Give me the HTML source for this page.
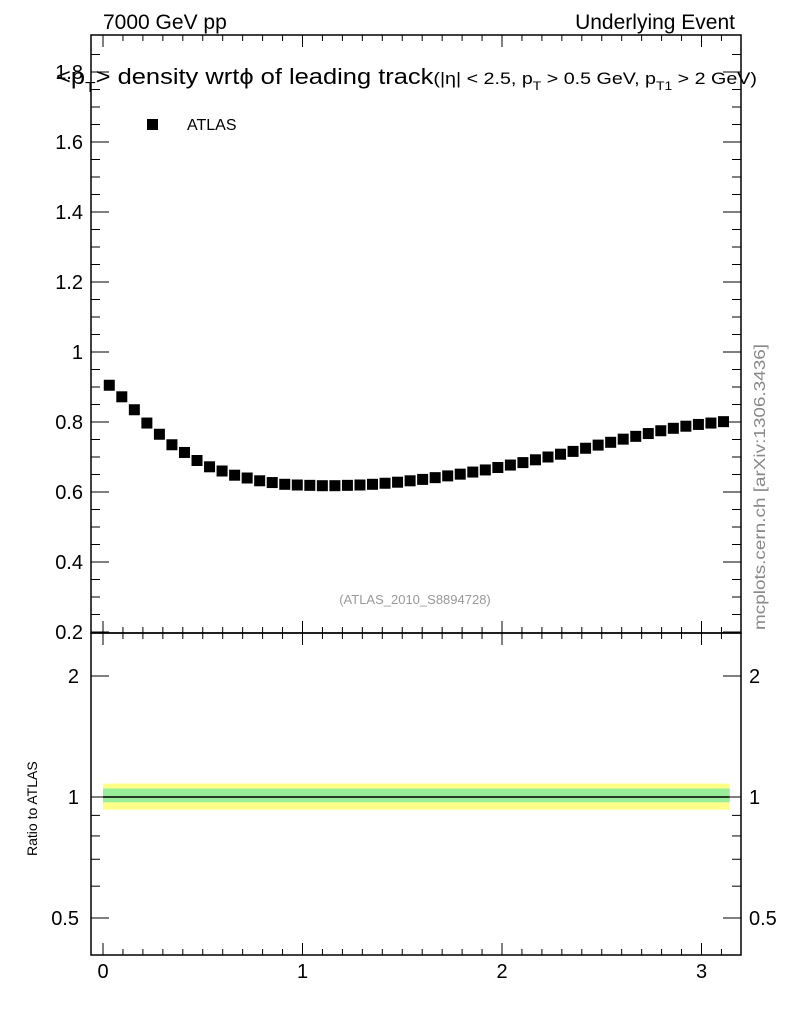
<!DOCTYPE html>
<html><head><meta charset="utf-8"><style>
html,body{margin:0;padding:0;background:#fff;}
svg{display:block;font-family:"Liberation Sans",sans-serif;}
</style></head><body>
<svg id="c" width="786" height="1024" viewBox="0 0 786 1024">
<text x="103" y="29" font-size="21">7000 GeV pp</text>
<text x="735" y="29" font-size="21" text-anchor="end">Underlying Event</text>
<g id="main"></g>
<g id="ratio"></g>
<text x="56" y="84" font-size="22" textLength="701" lengthAdjust="spacingAndGlyphs">&lt;p<tspan font-size="15" dy="8">T</tspan><tspan dy="-8">&gt; density wrt</tspan>ϕ of leading track<tspan font-size="17">(|η| &lt; 2.5, p<tspan font-size="12" dy="6">T</tspan><tspan dy="-6"> &gt; 0.5 GeV, p</tspan><tspan font-size="12" dy="6">T1</tspan><tspan dy="-6"> &gt; 2 GeV)</tspan></tspan></text>
<rect x="147" y="119" width="11" height="11" fill="#000"/>
<text x="187" y="130" font-size="16">ATLAS</text>
<text x="415" y="604" font-size="13" fill="#999" text-anchor="middle">(ATLAS_2010_S8894728)</text>
<text x="0" y="0" font-size="16" fill="#888" textLength="286" lengthAdjust="spacingAndGlyphs" transform="translate(765,630) rotate(-90)">mcplots.cern.ch [arXiv:1306.3436]</text>
<text x="0" y="0" font-size="14" transform="translate(37,856) rotate(-90)">Ratio to ATLAS</text>
</svg>
<script>
const phiCenters=[];
const densityValues=[0.905,0.872,0.835,0.797,0.765,0.735,0.713,0.690,0.672,0.660,0.648,0.640,0.632,0.627,0.622,0.620,0.619,0.618,0.618,0.619,0.620,0.622,0.625,0.628,0.632,0.636,0.641,0.646,0.651,0.657,0.663,0.670,0.677,0.684,0.692,0.700,0.708,0.716,0.725,0.734,0.742,0.751,0.759,0.767,0.775,0.782,0.788,0.793,0.797,0.801];
for(let i=0;i<50;i++)phiCenters.push((i+0.5)*Math.PI/50);
const mainYTicks=[0.2,0.4,0.6,0.8,1,1.2,1.4,1.6,1.8];
const xTicks=[0,1,2,3];
const ratioTicks=[0.5,1,2];
const bandYellow=[0.93,1.08];
const bandGreen=[0.97,1.05];

const NS="http://www.w3.org/2000/svg";
const L=91,R=741,T=35,MB=633,RB=955;
const X=v=>103+v*199.5;
const Y=v=>632-(v-0.2)*350;
const RY=v=>797-121*Math.log2(v);
function mk(p,tag,at){const e=document.createElementNS(NS,tag);for(const k in at)e.setAttribute(k,at[k]);p.appendChild(e);return e;}
const main=document.getElementById('main'),ratio=document.getElementById('ratio');

let f=mk(main,'rect',{x:L,y:T,width:R-L,height:MB-T,fill:'none',stroke:'#000','stroke-width':1.5});


f=mk(ratio,'rect',{x:L,y:MB,width:R-L,height:RB-MB,fill:'none',stroke:'#000','stroke-width':1.5});



for(let t=0;t<=3.15;t+=0.1){
  const tv=Math.round(t*10)/10, x=X(tv), maj=Math.abs(tv-Math.round(tv))<1e-6;
  const len=maj?12:6;
  [[T,1],[MB,-1],[MB,1],[RB,-1]].forEach(([y0,d])=>{
    const l=mk(main,'line',{x1:x,x2:x,y1:y0,y2:y0+d*len,stroke:'#000'});
    
    
  });
}
xTicks.forEach(t=>{
  const e=mk(ratio,'text',{x:X(t),y:978,'font-size':20,'text-anchor':'middle'});e.textContent=t;
  
  
});
for(let v=0.2;v<=1.9;v+=0.05){
  const vv=Math.round(v*100)/100,y=Y(vv);if(y<T)continue;
  const maj=Math.abs(vv*5-Math.round(vv*5))<1e-6,len=maj?18:9;
  [[L,1],[R,-1]].forEach(([x0,d])=>{
    const l=mk(main,'line',{x1:x0,x2:x0+d*len,y1:y,y2:y,stroke:'#000'});
    
    
  });
}
mainYTicks.forEach(t=>{
  const e=mk(main,'text',{x:83,y:Y(t)+7,'font-size':20,'text-anchor':'end'});e.textContent=t;
  
  
});
[0.5,0.6,0.7,0.8,0.9,1,2].forEach(v=>{
  const y=RY(v),maj=ratioTicks.includes(v),len=maj?18:9;
  [[L,1],[R,-1]].forEach(([x0,d])=>{
    const l=mk(ratio,'line',{x1:x0,x2:x0+d*len,y1:y,y2:y,stroke:'#000'});
    
    
  });
});
ratioTicks.forEach(t=>{
  let e=mk(ratio,'text',{x:79,y:RY(t)+7,'font-size':20,'text-anchor':'end'});e.textContent=t;
  
  
  e=mk(ratio,'text',{x:749,y:RY(t)+7,'font-size':20});e.textContent=t;
  
  
});
const x0=X(0),x1=X(Math.PI);
let b=mk(ratio,'rect',{x:x0,y:RY(bandYellow[1]),width:x1-x0,height:RY(bandYellow[0])-RY(bandYellow[1]),fill:'#ffff88'});


b=mk(ratio,'rect',{x:x0,y:RY(bandGreen[1]),width:x1-x0,height:RY(bandGreen[0])-RY(bandGreen[1]),fill:'#99ee99'});


b=mk(ratio,'line',{x1:x0,x2:x1,y1:RY(1),y2:RY(1),stroke:'#000','stroke-width':1.5});


phiCenters.forEach((p,i)=>{
  const r=mk(main,'rect',{x:X(p)-5.5,y:Y(densityValues[i])-5.5,width:11,height:11,fill:'#000'});
  
  
});
</script>
</body></html>
